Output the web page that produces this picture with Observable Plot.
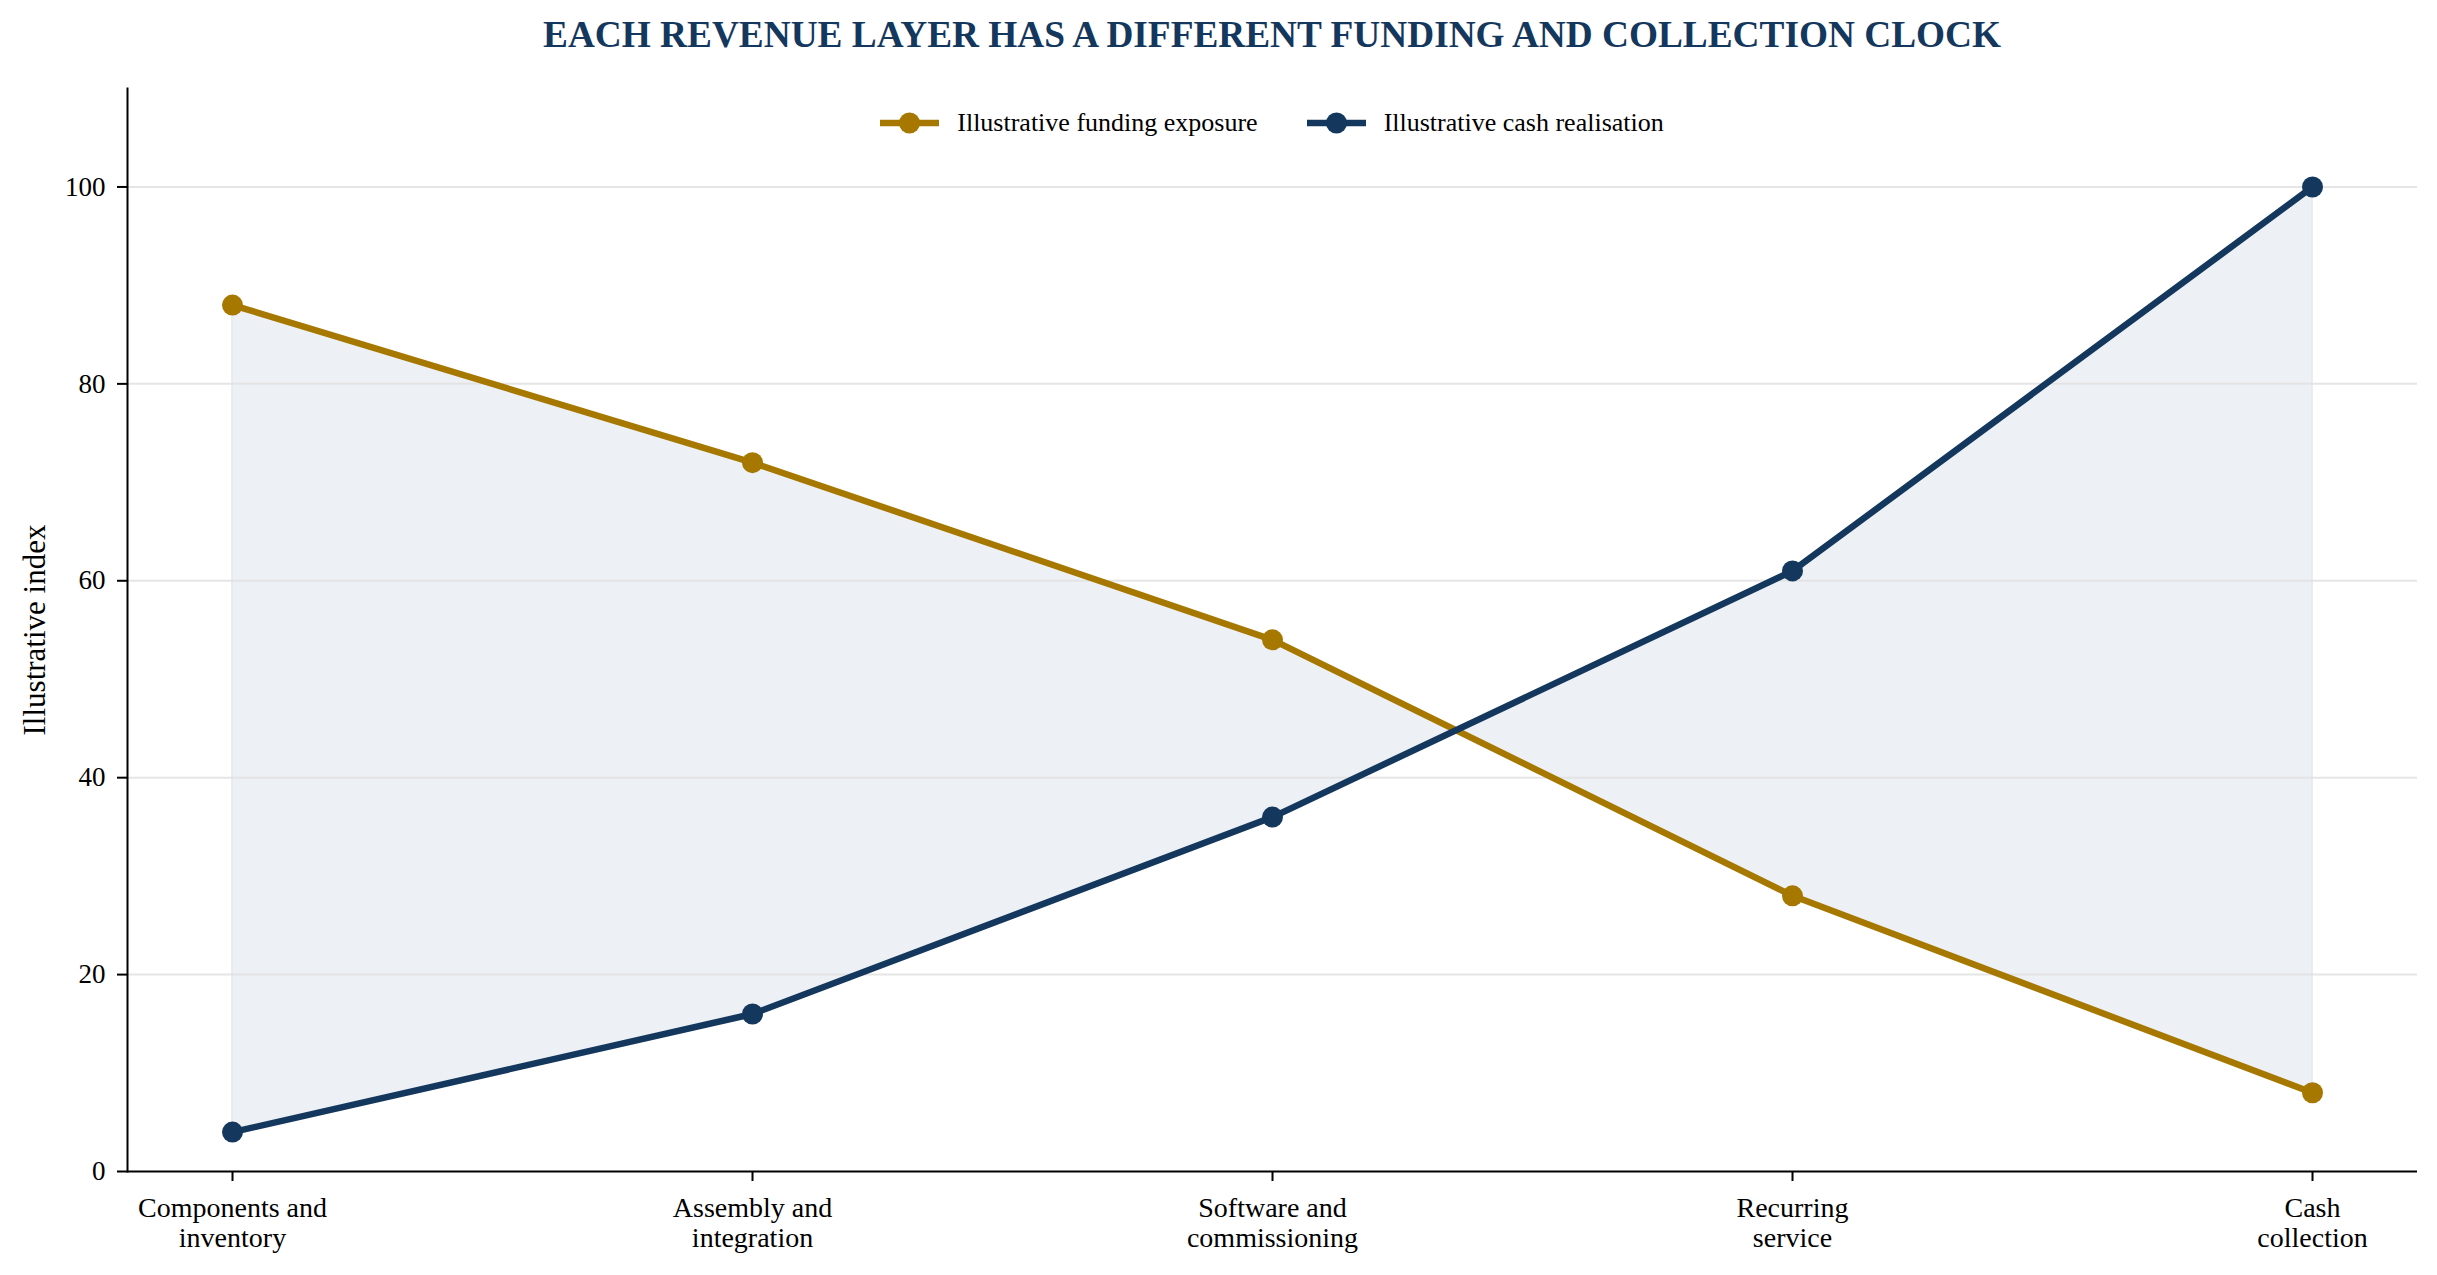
<!DOCTYPE html>
<html><head><meta charset="utf-8">
<script src="https://cdn.jsdelivr.net/npm/d3@7"></script>
<script src="https://cdn.jsdelivr.net/npm/@observablehq/plot@0.6"></script>
<style>
body{margin:0;background:#fff;}
#wrap{position:relative;width:2437px;height:1275px;font-family:"Liberation Serif","Times New Roman",serif;background:#fff;}
#title{box-sizing:border-box;height:60px;padding-top:16px;padding-left:107px;line-height:37px;font-size:37.3px;font-weight:bold;color:#14375d;text-align:center;white-space:nowrap;}
#legend{position:absolute;top:110px;left:127px;width:2290px;display:flex;justify-content:center;gap:49px;font-size:26px;line-height:26px;color:#000;}
.item{display:flex;align-items:center;gap:18px;}
.item svg{display:block;}
</style></head>
<body>
<div id="wrap">
  <div id="title">EACH REVENUE LAYER HAS A DIFFERENT FUNDING AND COLLECTION CLOCK</div>
  <div id="chart"></div>
  <div id="legend"></div>
</div>
<script>
const stages = ["Components", "Assembly", "Software", "Recurring", "Cash"];
const stageLabels = ["Components and\ninventory", "Assembly and\nintegration", "Software and\ncommissioning", "Recurring\nservice", "Cash\ncollection"];
const funding = [88, 72, 54, 28, 8];
const cash = [4, 16, 36, 61, 100];
const seriesNames = ["Illustrative funding exposure", "Illustrative cash realisation"];
const seriesColors = ["#a67800", "#14375d"];
const bandColor = "#edf0f5";
const yTicks = [0, 20, 40, 60, 80, 100];
const gridTicks = [20, 40, 60, 80, 100];
const yLabel = "Illustrative index";

const rows = stages.map((s, i) => ({stage: s, funding: funding[i], cash: cash[i]}));

const chart = Plot.plot({
  width: 2437,
  height: 1215,
  marginTop: 28,
  marginBottom: 104,
  marginLeft: 127,
  marginRight: 20,
  style: {fontFamily: "Liberation Serif, 'Times New Roman', serif", fontSize: "28px", color: "#000", background: "#fff", overflow: "visible"},
  x: {type: "point", domain: stages, padding: 0.2},
  y: {domain: [0, 110]},
  marks: [
    Plot.areaY(rows, {x: "stage", y1: "funding", y2: "cash", fill: bandColor, stroke: "#e3e8f0", strokeWidth: 1.5}),
    Plot.gridY(gridTicks, {stroke: "#e0e0e0", strokeOpacity: 0.85, strokeWidth: 2}),
    Plot.lineY(rows, {x: "stage", y: "funding", stroke: seriesColors[0], strokeWidth: 6.5}),
    Plot.dot(rows, {x: "stage", y: "funding", r: 10.5, fill: seriesColors[0]}),
    Plot.lineY(rows, {x: "stage", y: "cash", stroke: seriesColors[1], strokeWidth: 6.5}),
    Plot.dot(rows, {x: "stage", y: "cash", r: 10.5, fill: seriesColors[1]}),
    Plot.ruleY([0], {stroke: "#000", strokeWidth: 2}),
    Plot.frame({anchor: "left", stroke: "#000", strokeWidth: 2}),
    Plot.axisX({tickFormat: d => stageLabels[stages.indexOf(d)], tickSize: 10, tickPadding: 14, lineHeight: 1.07, label: null, strokeWidth: 2}),
    Plot.axisY({ticks: yTicks, tickSize: 10, tickPadding: 12, label: null, strokeWidth: 2, fontSize: 27}),
    Plot.axisY({ticks: [], label: yLabel, labelAnchor: "center", labelOffset: 105, labelArrow: "none", fontSize: 31})
  ]
});
document.getElementById("chart").appendChild(chart);

const legend = document.getElementById("legend");
seriesNames.forEach((name, i) => {
  const item = document.createElement("div");
  item.className = "item";
  item.innerHTML = `<svg width="59" height="24"><line x1="0" y1="12" x2="59" y2="12" stroke="${seriesColors[i]}" stroke-width="6.5"/><circle cx="29.5" cy="12" r="10.5" fill="${seriesColors[i]}"/></svg><span>${name}</span>`;
  legend.appendChild(item);
});
</script>
</body></html>
